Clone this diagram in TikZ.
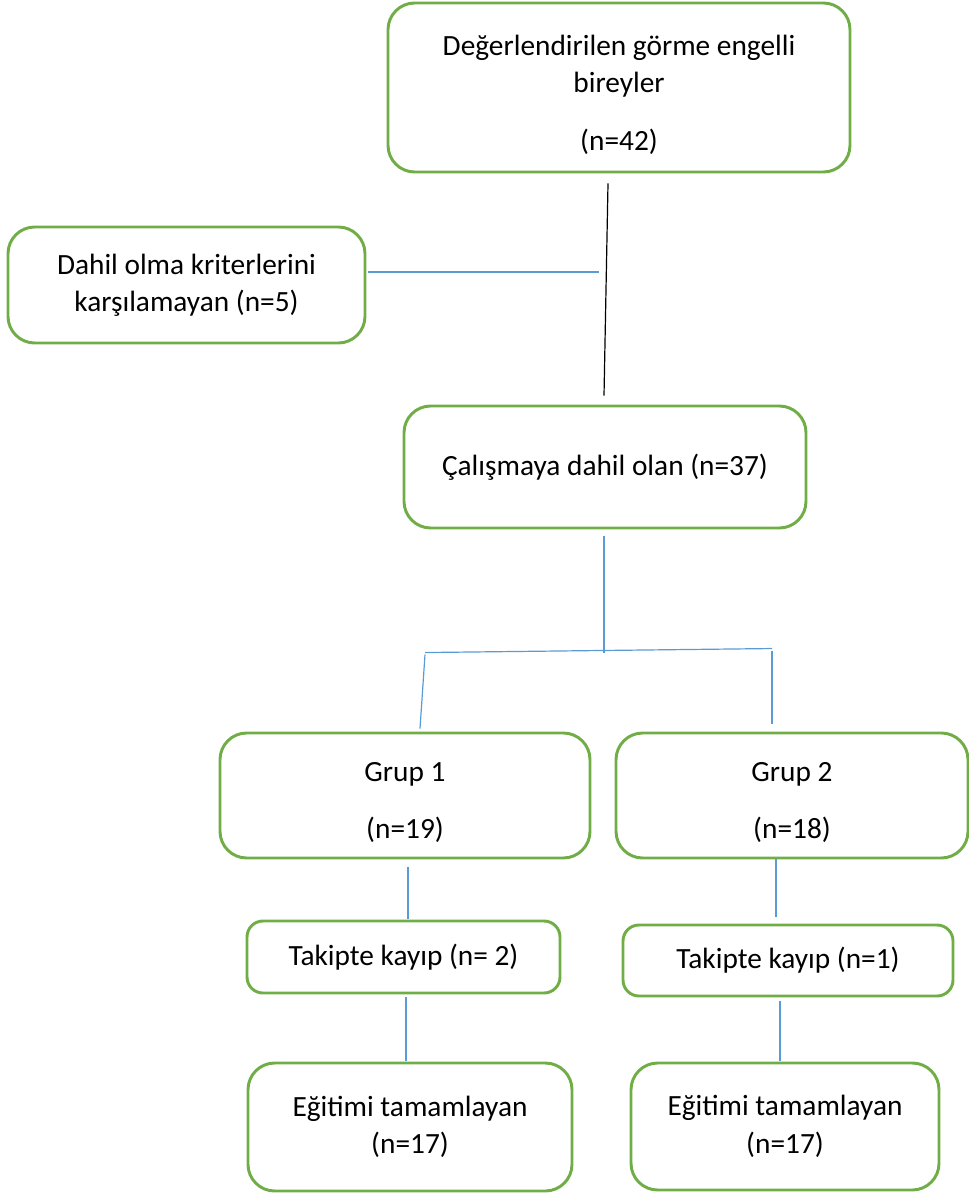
\documentclass[tikz,border=0pt]{standalone}
\usepackage{fontspec}
\setmainfont{Carlito}
\usetikzlibrary{calc}
\definecolor{boxgreen}{RGB}{112,173,71}
\definecolor{lineblue}{RGB}{91,155,213}

\begin{document}
\begin{tikzpicture}[x=0.75pt,y=-0.75pt,
box/.style={draw=boxgreen, line width=2.2pt, rounded corners=20pt,
  align=center, inner sep=0pt, font=\fontsize{22}{28}\selectfont},
smallbox/.style={box, rounded corners=12pt},
bline/.style={draw=lineblue, line width=0.9pt},
kline/.style={draw=black, line width=0.9pt}]
\useasboundingbox (0,0) rectangle (969,1194);
\node[box, minimum width=346.5pt, minimum height=126.75pt] (top) at (619,87.5)
  {\rule{0pt}{26pt}De\u{g}erlendirilen g\"orme engelli\\bireyler\\[15pt](n=42)};
\node[box, minimum width=267.75pt, minimum height=87pt] (left) at (186.5,285)
  {Dahil olma kriterlerini\\kar\c{s}\i lamayan (n=5)};
\node[box, minimum width=301.5pt, minimum height=91.5pt] (mid) at (605,467)
  {\c{C}al\i\c{s}maya dahil olan (n=37)};
\node[box, minimum width=277.5pt, minimum height=93.75pt] (g1) at (405,795.5)
  {\rule{0pt}{25pt}Grup 1\\[15pt](n=19)};
\node[box, minimum width=264pt, minimum height=93.75pt] (g2) at (792,795.5)
  {\rule{0pt}{25pt}Grup 2\\[15pt](n=18)};
\node[smallbox, minimum width=234.75pt, minimum height=54pt] (t1) at (403.5,957)
  {Takipte kay\i p (n= 2)};
\node[smallbox, minimum width=247.5pt, minimum height=53.25pt] (t2) at (788,960.5)
  {Takipte kay\i p (n=1)};
\node[box, minimum width=243pt, minimum height=96pt] (e1) at (410,1127)
  {E\u{g}itimi tamamlayan\\(n=17)};
\node[box, minimum width=231pt, minimum height=95.25pt] (e2) at (785,1126.5)
  {E\u{g}itimi tamamlayan\\(n=17)};
\draw[kline] ($(top.south)+(-11,10)$) -- ($(mid.north)+(-1,-9)$);
\draw[bline] ($(left.east)+(2,-13)$) -- ($(left.east)+(233,-13)$);
\draw[bline] ($(mid.south)+(-1,7)$) -- ($(mid.south)+(-1,124)$);
\draw[bline] ($(g1.north)+(20,-79)$) -- ($(g2.north)+(-20,-83)$);
\draw[bline] ($(g1.north)+(20,-77)$) -- ($(g1.north)+(15,-3)$);
\draw[bline] ($(g2.north)+(-20,-81)$) -- ($(g2.north)+(-20,-8)$);
\draw[bline] ($(g1.south)+(3,8)$) -- ($(t1.north)+(4.5,-1)$);
\draw[bline] ($(t1.south)+(2.5,3)$) -- ($(e1.north)+(-4,-1)$);
\draw[bline] ($(g2.south)+(-16,0)$) -- ($(t2.north)+(-12,-7)$);
\draw[bline] ($(t2.south)+(-8,4)$) -- ($(e2.north)+(-5,-1)$);
\end{tikzpicture}
\end{document}
